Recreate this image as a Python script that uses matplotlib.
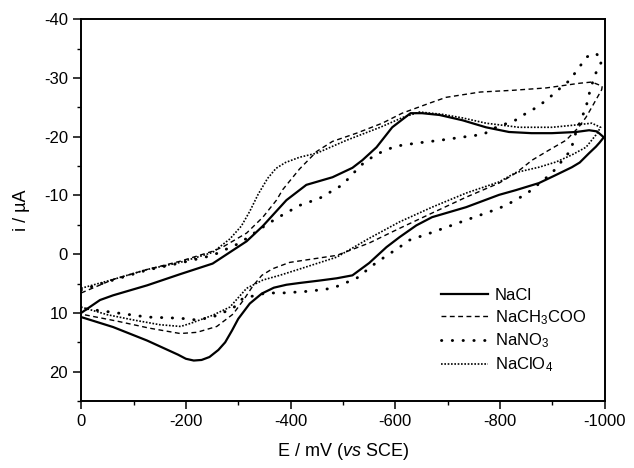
import matplotlib
matplotlib.use("Agg")
import matplotlib.pyplot as plt
from matplotlib.ticker import MultipleLocator

plt.rcParams['font.family'] = ['Liberation Sans', 'DejaVu Sans']
plt.rcParams['mathtext.fontset'] = 'custom'
plt.rcParams['mathtext.rm'] = 'Liberation Sans'
plt.rcParams['mathtext.it'] = 'Liberation Sans:italic'
plt.rcParams['mathtext.default'] = 'regular'
plt.rcParams['axes.unicode_minus'] = False

# ---- data (E in mV vs SCE, i in uA) ----
nacl_E = [0, -36, -61, -126, -189, -251, -316, -347, -392, -430,
          -480, -518, -537, -564, -594, -629, -651, -684, -728, -773,
          -817, -860, -899, -945, -970, -985, -998,
          -990, -983, -970, -952, -937, -907, -874, -830, -798, -735,
          -670, -640, -608, -583, -550, -518, -488, -454, -417, -392,
          -368, -345, -322, -300, -288, -275, -262, -245, -230, -215,
          -200, -185, -126, -61, 0]
nacl_I = [10.0, 7.8, 7.0, 5.3, 3.4, 1.6, -2.2, -4.8, -9.2, -11.8,
          -13.1, -14.7, -16.0, -18.2, -21.6, -24.0, -24.0, -23.7, -22.8, -21.6,
          -20.8, -20.6, -20.6, -20.8, -21.1, -20.9, -19.9,
          -19.0, -18.3, -17.2, -15.6, -14.8, -13.5, -12.1, -10.9, -10.1, -8.0,
          -6.3, -4.9, -2.9, -1.2, 1.5, 3.6, 4.1, 4.5, 4.9, 5.2,
          5.7, 6.7, 8.4, 11.0, 13.0, 15.0, 16.3, 17.5, 18.0, 18.1,
          17.8, 17.1, 14.7, 12.4, 10.7]

ac_E = [0, -61, -126, -189, -251, -270, -316, -347, -373, -385,
        -417, -450, -480, -526, -575, -613, -665, -697, -762, -825,
        -888, -952, -975, -995,
        -994, -975, -964, -950, -926, -893, -861, -830, -798, -735,
        -670, -608, -550, -488, -398, -365, -345, -328, -310, -290, -259,
        -221, -189, -131, -69, 0]
ac_I = [6.6, 4.3, 2.6, 1.2, -0.5, -1.2, -3.6, -6.3, -9.2, -11.0,
        -14.5, -17.5, -19.2, -20.6, -22.3, -24.0, -25.7, -26.7, -27.6, -27.9,
        -28.3, -29.1, -29.3, -28.6,
        -28.0, -25.0, -23.3, -21.6, -19.4, -17.7, -16.0, -13.8, -12.1, -9.7,
        -7.0, -4.4, -1.9, 0.2, 1.4, 2.5, 3.6, 5.4, 7.8, 10.2, 12.3,
        13.3, 13.5, 12.6, 11.4, 10.2]

no3_E = [0, -61, -126, -189, -251, -303, -347, -373, -417, -455,
         -499, -520, -539, -562, -581, -602, -640, -686, -726, -768,
         -790, -829, -850, -870, -891, -910, -933, -950, -966, -983, -995,
         -981, -971, -964, -954, -945, -935, -899, -855, -830, -798,
         -735, -670, -627, -608, -564, -526, -480, -436, -385, -354,
         -309, -290, -251, -221, -189, -126, -61, 0]
no3_I = [6.1, 4.4, 2.7, 1.5, 0.2, -1.9, -4.6, -6.1, -8.3, -9.5,
         -11.8, -13.8, -15.5, -16.9, -17.7, -18.4, -18.9, -19.4, -19.9, -20.4,
         -21.5, -22.8, -24.0, -25.0, -26.4, -27.9, -29.6, -31.7, -33.6, -34.2, -33.0,
         -30.5, -27.6, -25.0, -22.8, -20.8, -17.7, -13.8, -10.6, -9.2, -7.8,
         -5.8, -3.7, -2.4, -1.2, 1.4, 4.1, 5.8, 6.3, 6.6, 6.6,
         7.5, 9.2, 10.7, 11.2, 10.9, 10.7, 9.9, 9.2]

clo4_E = [0, -61, -126, -189, -251, -284, -306, -322, -338, -356, -372,
          -390, -417, -450, -507, -571, -615, -646, -690, -728, -773,
          -836, -899, -945, -975, -992,
          -983, -964, -937, -907, -874, -830, -798, -735, -670, -608,
          -550, -488, -411, -379, -347, -316, -284, -251, -208, -190,
          -150, -100, -50, 0]
clo4_I = [5.8, 4.3, 2.6, 1.4, -0.3, -2.6, -4.8, -7.3, -10.2, -12.9, -14.6,
          -15.6, -16.5, -17.2, -19.4, -21.6, -23.3, -24.2, -23.8, -23.2, -22.3,
          -21.6, -21.6, -22.0, -22.3, -21.6,
          -20.3, -18.2, -16.9, -15.7, -14.8, -13.9, -12.3, -10.4, -8.0, -5.5,
          -2.7, 0.5, 2.7, 3.6, 4.4, 5.8, 9.0, 10.4, 11.8, 12.3,
          12.0, 11.2, 10.3, 9.0]

labels = ['NaCl', 'NaCH$_3$COO', 'NaNO$_3$', 'NaClO$_4$']
x_ticks = [0, -200, -400, -600, -800, -1000]
y_ticks = [-40, -30, -20, -10, 0, 10, 20]

# ---- figure ----
fig = plt.figure(figsize=(6.34, 4.68), dpi=100)
ax = fig.add_axes([0.128, 0.143, 0.826, 0.816])

ax.plot(nacl_E, nacl_I, color='black', lw=1.6, ls='-', label=labels[0])
ax.plot(ac_E, ac_I, color='black', lw=1.0, ls=(0, (3.5, 2.5)), label=labels[1])
ax.plot(no3_E, no3_I, color='black', lw=2.1, ls=(0, (0.1, 3.6)),
        dash_capstyle='round', label=labels[2])
ax.plot(clo4_E, clo4_I, color='black', lw=1.2, ls=(0, (1, 1)), label=labels[3])

ax.set_xlim(0, -1000)
ax.set_ylim(25, -40)
ax.set_xticks(x_ticks)
ax.set_yticks(y_ticks)
ax.xaxis.set_minor_locator(MultipleLocator(100))
ax.yaxis.set_minor_locator(MultipleLocator(5))
ax.tick_params(which='major', direction='out', length=5.5, width=1.1,
               labelsize=12, top=False, right=False)
ax.tick_params(which='minor', direction='out', length=3, width=1.0,
               top=False, right=False)
ax.tick_params(axis='y', pad=4)
ax.tick_params(axis='x', pad=3.5)
for s in ax.spines.values():
    s.set_linewidth(1.4)

ax.set_xlabel(r'E / mV ($\mathit{vs}$ SCE)', fontsize=13, labelpad=9)
ax.set_ylabel('i / µA', fontsize=13, labelpad=10)

leg = ax.legend(loc='upper left', bbox_to_anchor=(0.687, 0.296), frameon=False,
                fontsize=12, handlelength=2.8, handletextpad=0.45,
                labelspacing=0.3, borderpad=0, borderaxespad=0)

fig.savefig('out.png', dpi=100)
